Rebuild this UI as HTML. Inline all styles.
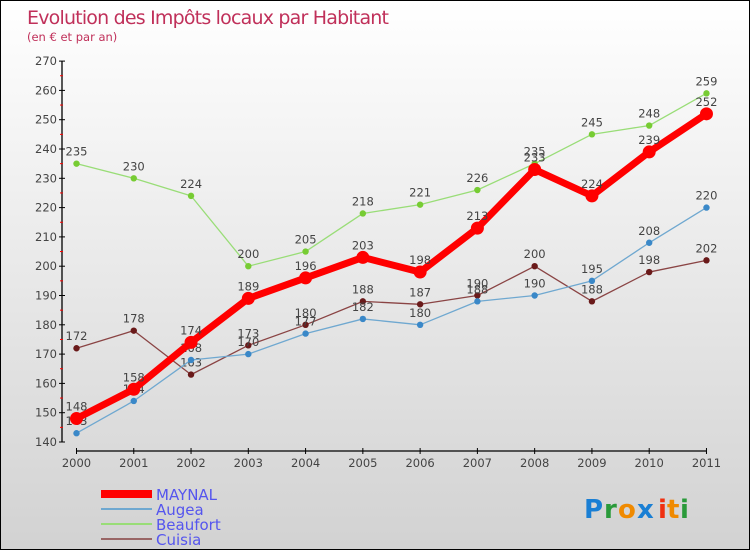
<!DOCTYPE html>
<html><head><meta charset="utf-8"><style>
body{margin:0}
#c{position:relative;width:748px;height:548px;border:1px solid #000;background:linear-gradient(#fff,#d2d2d2);font-family:"DejaVu Sans","Liberation Sans",sans-serif;overflow:hidden}
svg text{font-family:"DejaVu Sans","Liberation Sans",sans-serif}
</style></head><body>
<div id="c">
<svg id="s" width="748" height="548">
<text x="26" y="23" font-size="19" fill="#c0305a" textLength="362">Evolution des Impôts locaux par Habitant</text>
<text x="26" y="40" font-size="11.5" fill="#c0305a">(en € et par an)</text>
<g id="ax"></g><g id="ser"></g>
<g>
<rect x="100" y="489" width="51" height="8" fill="#f00"/>
<text x="155" y="499" font-size="15" fill="#5555ee">MAYNAL</text>
<line x1="100" y1="508" x2="151" y2="508" stroke="#6fa8d0" stroke-width="2"/>
<text x="155" y="514" font-size="15" fill="#5555ee">Augea</text>
<line x1="100" y1="523" x2="151" y2="523" stroke="#99dd77" stroke-width="2"/>
<text x="155" y="529" font-size="15" fill="#5555ee">Beaufort</text>
<line x1="100" y1="538" x2="151" y2="538" stroke="#996666" stroke-width="2"/>
<text x="155" y="544" font-size="15" fill="#5555ee">Cuisia</text>
</g>
<g font-size="26" font-weight="bold">
<text x="583" y="517" fill="#1a7fd4">P</text><text x="603" y="517" fill="#2a9a3a">r</text><text x="617" y="517" fill="#f08a00">o</text><text x="636" y="517" fill="#1a7fd4">x</text><text x="657" y="517" fill="#f03010">i</text><text x="666" y="517" fill="#f08a00">t</text><text x="679" y="517" fill="#2a9a3a">i</text>
</g>
</svg></div>
<script>
const years=[2000,2001,2002,2003,2004,2005,2006,2007,2008,2009,2010,2011];
const maynal=[148,158,174,189,196,203,198,213,233,224,239,252];
const augea=[143,154,168,170,177,182,180,188,190,195,208,220];
const beaufort=[235,230,224,200,205,218,221,226,235,245,248,259];
const cuisia=[172,178,163,173,180,188,187,190,200,188,198,202];
const yTicks=[140,150,160,170,180,190,200,210,220,230,240,250,260,270];
const NS="http://www.w3.org/2000/svg";
const X=i=>75.5+i*57.27, Y=v=>441-(v-140)*2.93;
function mk(t,a,p){const e=document.createElementNS(NS,t);for(const k in a)e.setAttribute(k,a[k]);p.appendChild(e);return e;}
const ax=document.getElementById('ax'),ser=document.getElementById('ser');
let l=mk('line',{x1:61,y1:Y(270),x2:61,y2:Y(140),stroke:'#000','stroke-width':1.3},ax);


l=mk('line',{x1:X(0),y1:450,x2:X(11),y2:450,stroke:'#000','stroke-width':1.3},ax);


yTicks.forEach(v=>{
 mk('line',{x1:58,x2:64,y1:Y(v),y2:Y(v),stroke:'#000'},ax);
 if(v<270)mk('line',{x1:59,x2:62,y1:Y(v+5),y2:Y(v+5),stroke:'#f00'},ax);
 const t=mk('text',{x:56,y:Y(v)+4,'text-anchor':'end','font-size':11.5,fill:'#444'},ax);
 
 
 t.textContent=v;
});
years.forEach((y,i)=>{
 mk('line',{x1:X(i),x2:X(i),y1:447,y2:453,stroke:'#000'},ax);
 const t=mk('text',{x:X(i),y:466,'text-anchor':'middle','font-size':11.5,fill:'#444'},ax);
 
 
 t.textContent=y;
});
function series(name,d,col,dot,w,r){
 const g=mk('g',{},ser);
 
 
 mk('polyline',{points:d.map((v,i)=>X(i)+','+Y(v)).join(' '),fill:'none',stroke:col,'stroke-width':w,'stroke-linejoin':'round'},g);
 d.forEach((v,i)=>{
  const c=mk('circle',{cx:X(i),cy:Y(v),r:r,fill:dot},g);
  
  
  const t=mk('text',{x:X(i),y:Y(v)-8,'text-anchor':'middle','font-size':11.5,fill:'#444'},g);
  
  
  t.textContent=v;
 });
}
series('beaufort',beaufort,'#99dd77','#77cc33',1.3,3.2);
series('cuisia',cuisia,'#8a4444','#6a1a1a',1.3,3.2);
series('augea',augea,'#6fa8d0','#3a88c8',1.3,3.2);
series('maynal',maynal,'#f00','#f00',7,6.5);
</script>
</body></html>
